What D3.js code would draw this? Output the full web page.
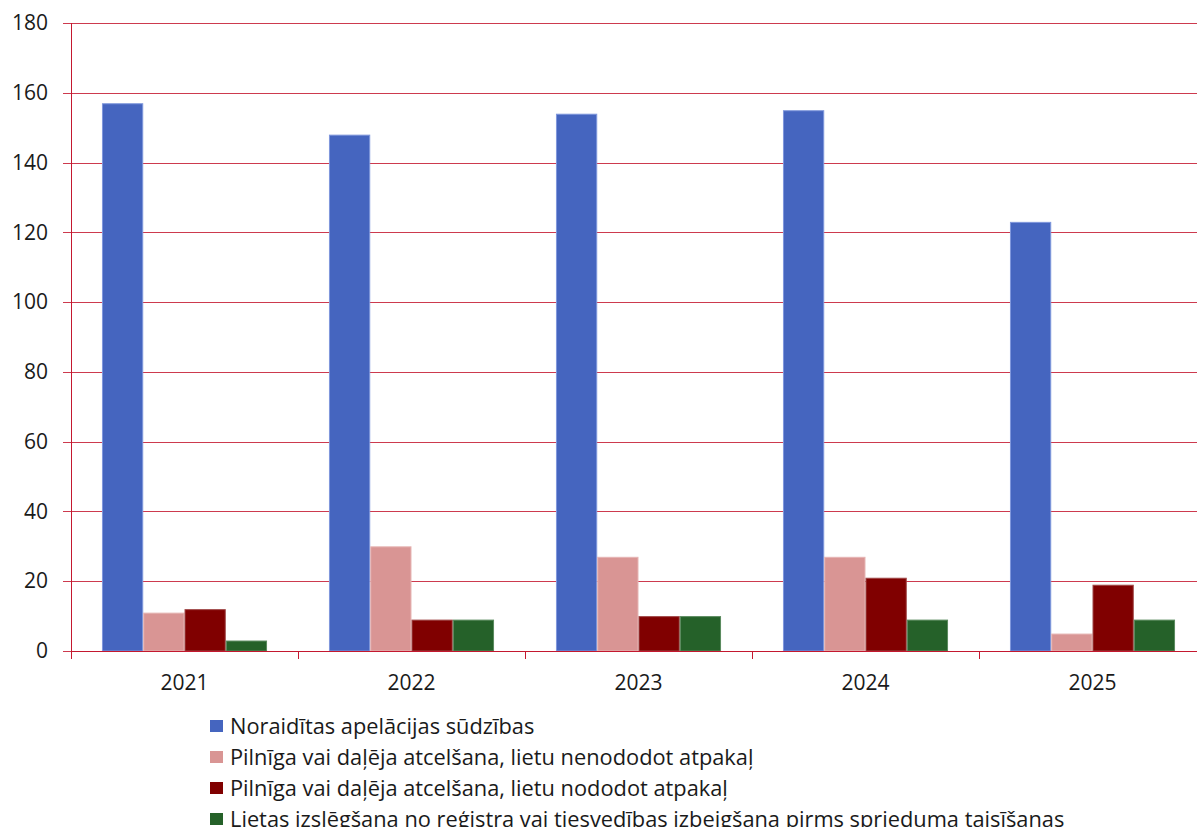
<!DOCTYPE html>
<html>
<head>
<meta charset="utf-8">
<script src="https://cdn.jsdelivr.net/npm/d3@7"></script>
<style>
  body { margin: 0; background: #fff; }
  svg { display: block; font-family: "Open Sans", "Noto Sans", sans-serif; }
</style>
</head>
<body>
<div id="chart"></div>
<script>
var years = ["2021", "2022", "2023", "2024", "2025"];
var seriesNames = [
    "Noraidītas apelācijas sūdzības",
    "Pilnīga vai daļēja atcelšana, lietu nenododot atpakaļ",
    "Pilnīga vai daļēja atcelšana, lietu nododot atpakaļ",
    "Lietas izslēgšana no reģistra vai tiesvedības izbeigšana pirms sprieduma taisīšanas"
];
var rejected  = [157, 148, 154, 155, 123];
var annulNotReturned = [11, 30, 27, 27, 5];
var annulReturned = [12, 9, 10, 21, 19];
var struckOff = [3, 9, 10, 9, 9];
var yTicks = [0, 20, 40, 60, 80, 100, 120, 140, 160, 180];

var colors = ["#4565bf", "#d99594", "#800000", "#256129"];
var strokes = ["#7f97dc", "#e6b5b4", "#a04848", "#5a8a5e"];
var gridColor = "#c4182f";
var fontSize = 21;

var allSeries = [rejected, annulNotReturned, annulReturned, struckOff];

var margin = { top: 23, left: 71 },
    width = 1135,
    height = 628;

var svg = d3.select("#chart")
  .append("svg")
    .attr("width", 1197)
    .attr("height", 827);

var canvas = svg.append("g")
    .attr("transform", "translate(" + margin.left + "," + margin.top + ")");

var xScale = d3.scaleBand()
    .domain(years)
    .range([0, width])
    .paddingInner(0)
    .paddingOuter(0);

var xInner = d3.scaleBand()
    .domain(d3.range(4))
    .range([xScale.bandwidth() * 0.1364, xScale.bandwidth() * 0.8636]);

var yScale = d3.scaleLinear()
    .domain([0, 180])
    .range([height, 0]);

// gridlines
canvas.append("g")
    .selectAll("line")
    .data(yTicks)
    .enter()
  .append("line")
    .attr("x1", -8)
    .attr("x2", width)
    .attr("y1", function(d) { return Math.round(yScale(d)) + 0.5; })
    .attr("y2", function(d) { return Math.round(yScale(d)) + 0.5; })
    .attr("stroke", gridColor)
    .attr("stroke-opacity", 0.85)
    .attr("stroke-width", 1);

// y labels
var yAxis = d3.axisLeft(yScale).tickValues(yTicks).tickSize(0).tickPadding(23);
canvas.append("g")
    .call(yAxis)
    .call(function(g) { g.select(".domain").remove(); })
    .selectAll("text")
    .attr("font-size", fontSize)
    .attr("fill", "#1a1a1a")
    .attr("font-family", "'Open Sans', 'Noto Sans', sans-serif");

// bars
var groups = canvas.selectAll(".year")
    .data(years)
    .enter()
  .append("g")
    .attr("class", "year")
    .attr("transform", function(d) { return "translate(" + xScale(d) + ",0)"; });

groups.selectAll("rect")
    .data(function(d, i) { return allSeries.map(function(s, k) { return { k: k, v: s[i] }; }); })
    .enter()
  .append("rect")
    .attr("x", function(d) { return xInner(d.k) + 0.5; })
    .attr("width", xInner.bandwidth() - 1)
    .attr("y", function(d) { return yScale(d.v) + 0.5; })
    .attr("height", function(d) { return height - yScale(d.v) - 0.5; })
    .attr("fill", function(d) { return colors[d.k]; })
    .attr("stroke", function(d) { return strokes[d.k]; })
    .attr("stroke-width", 1);

// x axis line and ticks
var xAxisG = canvas.append("g")
    .attr("transform", "translate(0," + height + ")");
xAxisG.append("line")
    .attr("x1", 0).attr("x2", width)
    .attr("y1", 0.5).attr("y2", 0.5)
    .attr("stroke", gridColor);
xAxisG.selectAll(".tk")
    .data(years.concat(["end"]))
    .enter()
  .append("line")
    .attr("class", "tk")
    .attr("x1", function(d, i) { return Math.round(i * xScale.bandwidth()) + 0.5; })
    .attr("x2", function(d, i) { return Math.round(i * xScale.bandwidth()) + 0.5; })
    .attr("y1", 0)
    .attr("y2", 8)
    .attr("stroke", gridColor);
xAxisG.selectAll(".xl")
    .data(years)
    .enter()
  .append("text")
    .attr("class", "xl")
    .attr("x", function(d) { return xScale(d) + xScale.bandwidth() / 2; })
    .attr("y", 39)
    .attr("text-anchor", "middle")
    .attr("font-size", fontSize)
    .attr("fill", "#1a1a1a")
    .text(function(d) { return d; });

// y axis line
canvas.append("line")
    .attr("x1", 0.5).attr("x2", 0.5)
    .attr("y1", 0).attr("y2", height + 8)
    .attr("stroke", gridColor);

// legend
var legend = svg.append("g")
    .attr("transform", "translate(210,726)");
var items = legend.selectAll("g")
    .data(seriesNames)
    .enter()
  .append("g")
    .attr("transform", function(d, i) { return "translate(0," + (i * 31) + ")"; });
items.append("rect")
    .attr("x", 0).attr("y", -6)
    .attr("width", 13).attr("height", 12)
    .attr("fill", function(d, i) { return colors[i]; });
items.append("text")
    .attr("x", 20)
    .attr("y", 0)
    .attr("dy", "0.35em")
    .attr("font-size", 21.8)
    .attr("fill", "#1a1a1a")
    .text(function(d) { return d; });
</script>
</body>
</html>
